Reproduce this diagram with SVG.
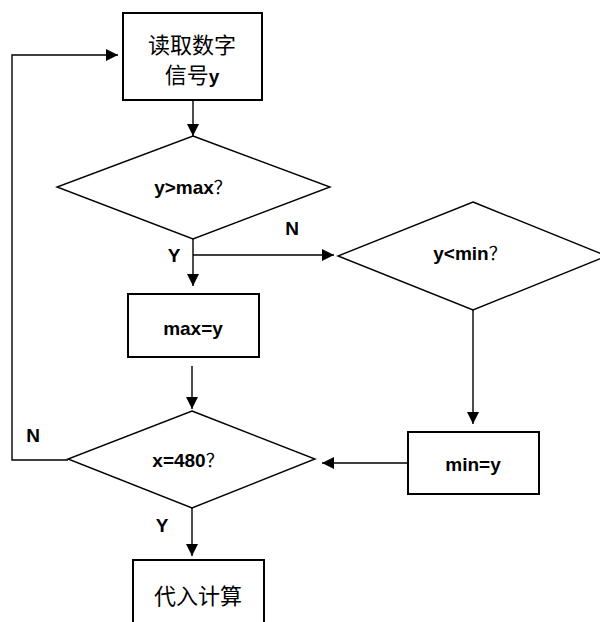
<svg xmlns="http://www.w3.org/2000/svg" width="600" height="622" viewBox="0 0 600 622">
<defs>
<marker id="ah" markerWidth="12" markerHeight="12" refX="12" refY="6" orient="auto" markerUnits="userSpaceOnUse">
<path d="M0,0 L12,6 L0,12 Z" fill="#000"/>
</marker>
<style>
.box{fill:#fff;stroke:#000;stroke-width:2}
.dia{fill:#fff;stroke:#000;stroke-width:1.4}
.line{fill:none;stroke:#000;stroke-width:1.4}
.lat{font-family:"Liberation Sans",Arial,"Noto Sans CJK SC",sans-serif;font-weight:bold;font-size:19px;fill:#000}
.cjk{font-family:"Noto Sans CJK SC","Liberation Sans",sans-serif;font-size:22px;fill:#000}
.q{font-family:"Noto Sans CJK SC",sans-serif;font-size:18px;font-weight:normal}
</style>
</defs>
<rect width="600" height="622" fill="#fff"/>
<g id="connectors">
<line class="line" x1="193" y1="100" x2="193" y2="136" marker-end="url(#ah)"/>
<line class="line" x1="193" y1="239" x2="193" y2="286" marker-end="url(#ah)"/>
<line class="line" x1="193" y1="255" x2="334" y2="255" marker-end="url(#ah)"/>
<line class="line" x1="473" y1="310" x2="473" y2="424" marker-end="url(#ah)"/>
<line class="line" x1="408" y1="463" x2="322" y2="463" marker-end="url(#ah)"/>
<line class="line" x1="192" y1="366" x2="192" y2="409" marker-end="url(#ah)"/>
<polyline class="line" points="68,460 12,460 12,55 118,55" marker-end="url(#ah)"/>
<line class="line" x1="192" y1="508" x2="192" y2="556" marker-end="url(#ah)"/>
<text class="lat" x="292" y="235" text-anchor="middle">N</text>
<text class="lat" x="174" y="262" text-anchor="middle">Y</text>
<text class="lat" x="33" y="442" text-anchor="middle">N</text>
<text class="lat" x="162" y="532" text-anchor="middle">Y</text>
</g>
<g id="read">
<rect class="box" x="123" y="13" width="139" height="87"/>
<text class="cjk" x="192" y="53" text-anchor="middle" font-size="20.5">读取数字</text>
<text class="cjk" x="192" y="83" text-anchor="middle" font-size="20.5">信号<tspan class="lat" font-size="20">y</tspan></text>
</g>
<g id="ymax">
<polygon class="dia" points="193,136 330,187 193,239 57,187"/>
<text class="lat" x="193" y="194" text-anchor="middle">y&gt;max<tspan class="q">？</tspan></text>
</g>
<g id="ymin">
<polygon class="dia" points="473,202 607,256 473,310 338,256"/>
<text class="lat" x="470" y="260" text-anchor="middle">y&lt;min<tspan class="q">？</tspan></text>
</g>
<g id="maxy">
<rect class="box" x="128" y="294" width="131" height="63"/>
<text class="lat" x="193" y="335" text-anchor="middle">max=y</text>
</g>
<g id="miny">
<rect class="box" x="408" y="432" width="131" height="62"/>
<text class="lat" x="473" y="471" text-anchor="middle">min=y</text>
</g>
<g id="x480">
<polygon class="dia" points="192,411 315,459 192,508 68,459"/>
<text class="lat" x="188" y="467" text-anchor="middle">x=480<tspan class="q">？</tspan></text>
</g>
<g id="calc">
<rect class="box" x="133" y="560" width="131" height="80"/>
<text class="cjk" x="198" y="604" text-anchor="middle">代入计算</text>
</g>
</svg>
